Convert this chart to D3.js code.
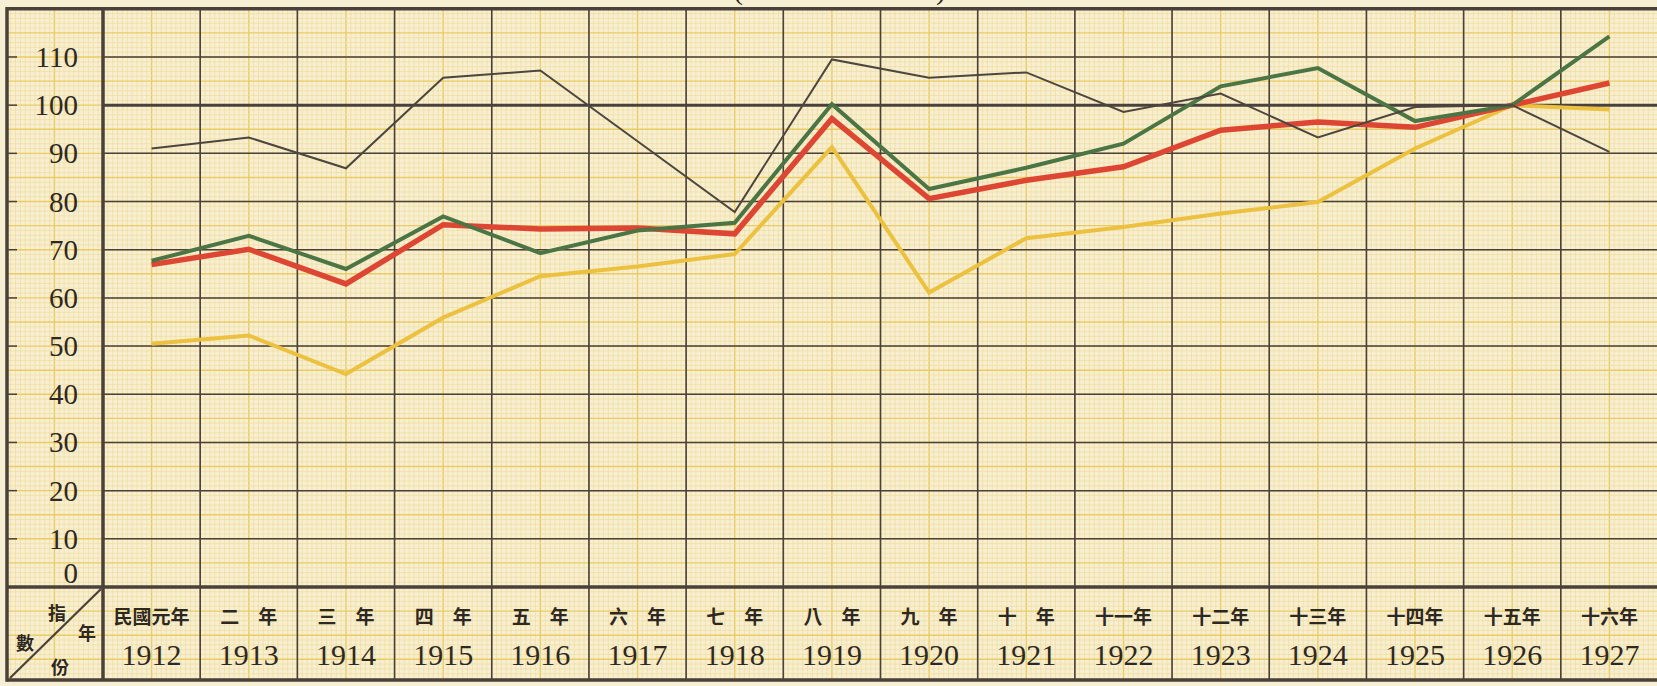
<!DOCTYPE html>
<html>
<head>
<meta charset="utf-8">
<script src="https://cdn.jsdelivr.net/npm/d3@7"></script>
<style>
  body { margin: 0; background: #f7efd4; overflow: hidden; }
  .num { font-family: "Liberation Serif", "DejaVu Serif", serif; fill: #2e2822; }
  .cjk { font-family: "Noto Sans CJK TC", "Noto Sans CJK SC", sans-serif; font-weight: 700; fill: #2e2822; }
</style>
</head>
<body>
<div id="chart"></div>
<script>
// year columns
var years = [1912, 1913, 1914, 1915, 1916, 1917, 1918, 1919, 1920, 1921, 1922, 1923, 1924, 1925, 1926, 1927];
var yearLabelsCn = ["民國元年", "二　年", "三　年", "四　年", "五　年", "六　年", "七　年", "八　年",
                    "九　年", "十　年", "十一年", "十二年", "十三年", "十四年", "十五年", "十六年"];
var yTicks = [0, 10, 20, 30, 40, 50, 60, 70, 80, 90, 100, 110];

// index numbers (1926 = 100)
var seriesDark   = [91.0, 93.3, 86.9, 105.7, 107.2, 92.5, 77.8, 109.5, 105.7, 106.8, 98.6, 102.4, 93.3, 99.6, 100, 90.3];
var seriesGreen  = [67.7, 72.9, 66.0, 76.9, 69.3, 74.0, 75.6, 100.2, 82.6, 87.0, 92.0, 103.9, 107.7, 96.7, 100, 114.3];
var seriesRed    = [66.9, 70.1, 62.9, 75.2, 74.3, 74.5, 73.3, 97.2, 80.6, 84.4, 87.2, 94.8, 96.5, 95.4, 100, 104.6];
var seriesYellow = [50.5, 52.2, 44.2, 55.9, 64.5, 66.5, 69.1, 91.3, 61.1, 72.4, 74.7, 77.5, 79.9, 91.0, 100, 99.1];

var W = 1657, H = 686;
var frameL = 7, plotL = 103, plotR = 1658, plotTop = 8.8, zeroY = 587, tableB = 680;

var svg = d3.select("#chart").append("svg")
    .attr("width", W)
    .attr("height", H);

svg.append("rect").attr("width", W).attr("height", H).attr("fill", "#f7efd4");

var x = d3.scaleBand().domain(years).range([plotL, plotR]).padding(0);
var y = d3.scaleLinear().domain([0, 120]).range([zeroY, plotTop]);
var cx = function(yr) { return x(yr) + x.bandwidth() / 2; };

// minor yellow grid (covers the whole sheet)
var step = x.bandwidth() / 20;
var grid = svg.append("g");
for (var gx = plotL - step * 20; gx <= W + 1; gx += step) {
    var k = Math.round((gx - plotL) / step);
    if (gx < frameL) continue;
    grid.append("line")
        .attr("x1", gx).attr("x2", gx).attr("y1", plotTop).attr("y2", tableB)
        .attr("stroke", k % 10 === 0 ? "#ebcb62" : "#f1dc98")
        .attr("stroke-width", k % 10 === 0 ? 1.4 : 0.7);
}
for (var v = 120; v >= -19; v -= 1) {
    grid.append("line")
        .attr("x1", frameL).attr("x2", W).attr("y1", y(v)).attr("y2", y(v))
        .attr("stroke", v % 5 === 0 ? "#ebcb62" : "#f1dc98")
        .attr("stroke-width", v % 5 === 0 ? 1.4 : 0.7);
}

// major grid
var major = svg.append("g").attr("stroke", "#4a4138");
major.selectAll(".hline")
    .data(d3.range(10, 111, 10))
    .join("line")
    .attr("x1", plotL).attr("x2", W)
    .attr("y1", function(d) { return y(d); })
    .attr("y2", function(d) { return y(d); })
    .attr("stroke-width", function(d) { return d === 100 ? 3 : 1.5; });

major.selectAll(".vline")
    .data(years.slice(1))
    .join("line")
    .attr("x1", function(d) { return x(d); })
    .attr("x2", function(d) { return x(d); })
    .attr("y1", plotTop).attr("y2", tableB)
    .attr("stroke-width", 1.6);

// frame
major.append("line").attr("x1", frameL).attr("x2", W).attr("y1", plotTop).attr("y2", plotTop).attr("stroke-width", 3.5);
major.append("line").attr("x1", frameL).attr("x2", W).attr("y1", zeroY).attr("y2", zeroY).attr("stroke-width", 3.5);
major.append("line").attr("x1", frameL).attr("x2", W).attr("y1", tableB).attr("y2", tableB).attr("stroke-width", 3.5);
major.append("line").attr("x1", frameL).attr("x2", frameL).attr("y1", plotTop - 1.7).attr("y2", tableB + 1.7).attr("stroke-width", 3.5);
major.append("line").attr("x1", plotL).attr("x2", plotL).attr("y1", plotTop).attr("y2", tableB).attr("stroke-width", 3.5);

// y axis ticks and labels
major.selectAll(".tick")
    .data(yTicks.slice(1))
    .join("line")
    .attr("x1", frameL).attr("x2", frameL + 10)
    .attr("y1", function(d) { return y(d); })
    .attr("y2", function(d) { return y(d); })
    .attr("stroke-width", 1.5);

svg.selectAll(".ylab")
    .data(yTicks)
    .join("text")
    .attr("class", "num")
    .attr("x", 78)
    .attr("y", function(d) { return d === 0 ? y(d) - 4 : y(d) + 10; })
    .attr("text-anchor", "end")
    .attr("font-size", 29)
    .text(function(d) { return d; });

// header cell of the table
major.append("line")
    .attr("x1", frameL + 3).attr("y1", tableB - 2)
    .attr("x2", plotL - 2).attr("y2", zeroY + 2)
    .attr("stroke-width", 2.2);
var hdr = [["指", 57, 620], ["年", 87, 640], ["數", 25, 650], ["份", 60, 674]];
svg.selectAll(".hdr")
    .data(hdr)
    .join("text")
    .attr("class", "cjk")
    .attr("x", function(d) { return d[1]; })
    .attr("y", function(d) { return d[2]; })
    .attr("text-anchor", "middle")
    .attr("font-size", 18)
    .text(function(d) { return d[0]; });

// table labels
svg.selectAll(".cn")
    .data(years)
    .join("text")
    .attr("class", "cjk")
    .attr("x", function(d) { return cx(d); })
    .attr("y", 624)
    .attr("text-anchor", "middle")
    .attr("font-size", 19)
    .text(function(d, i) { return yearLabelsCn[i]; });

svg.selectAll(".yr")
    .data(years)
    .join("text")
    .attr("class", "num")
    .attr("x", function(d) { return cx(d); })
    .attr("y", 665)
    .attr("text-anchor", "middle")
    .attr("font-size", 30)
    .text(function(d) { return d; });

// title remnant cut off at the top edge
svg.append("text").attr("class", "num").attr("x", 733).attr("y", -1).attr("font-size", 30).text("(");
svg.append("text").attr("class", "num").attr("x", 936).attr("y", -1).attr("font-size", 30).text(")");

// the four index lines
var line = d3.line()
    .x(function(d, i) { return cx(years[i]); })
    .y(function(d) { return y(d); });

var lines = [
    { values: seriesYellow, color: "#ecc13f", width: 4 },
    { values: seriesRed, color: "#dd4632", width: 5.5 },
    { values: seriesGreen, color: "#4b7544", width: 4 },
    { values: seriesDark, color: "#4d463e", width: 2 }
];

svg.selectAll(".series")
    .data(lines)
    .join("path")
    .attr("class", "series")
    .attr("fill", "none")
    .attr("stroke", function(d) { return d.color; })
    .attr("stroke-width", function(d) { return d.width; })
    .attr("stroke-linejoin", "miter")
    .attr("d", function(d) { return line(d.values); });
</script>
</body>
</html>
